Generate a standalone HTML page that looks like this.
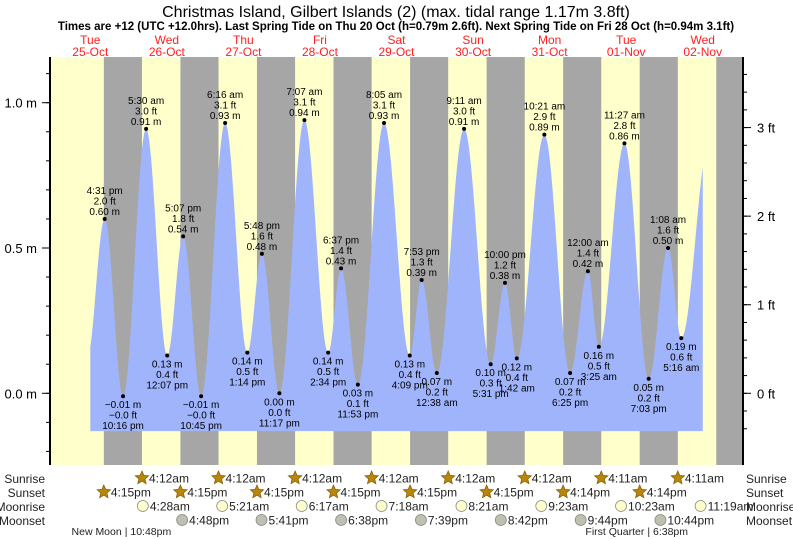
<!DOCTYPE html>
<html><head><meta charset="utf-8"><style>
body{margin:0;background:#fff;}
svg{display:block;font-family:"Liberation Sans",sans-serif;}
</style></head><body>
<svg id="chart" width="793" height="539" viewBox="0 0 793 539" xmlns="http://www.w3.org/2000/svg">
<text x="396" y="17" font-size="16" text-anchor="middle">Christmas Island, Gilbert Islands (2) (max. tidal range 1.17m 3.8ft)</text>
<text x="396" y="30" font-size="11.5" font-weight="bold" text-anchor="middle">Times are +12 (UTC +12.0hrs). Last Spring Tide on Thu 20 Oct (h=0.79m 2.6ft). Next Spring Tide on Fri 28 Oct (h=0.94m 3.1ft)</text>
<g id="bands"></g>
<g id="tide"></g>
<g id="axes"></g>
<g id="labels"></g>
<g id="astro"></g>
</svg>
<script>
// Data
const dayNames = ["Tue","Wed","Thu","Fri","Sat","Sun","Mon","Tue","Wed"];
const dayDates = ["25-Oct","26-Oct","27-Oct","28-Oct","29-Oct","30-Oct","31-Oct","01-Nov","02-Nov"];
const tideHours = [11.0,16.52,22.27,29.5,36.12,41.12,46.75,54.27,61.23,65.8,71.28,79.12,86.57,90.62,95.88,104.08,112.15,115.88,120.63,129.18,137.52,142,145.7,154.35,162.42,168,171.42,179.45,187.05,193.13,197.27,206.0];
const tideHeights = [0.12,0.60,-0.01,0.91,0.13,0.54,-0.01,0.93,0.14,0.48,0.00,0.94,0.14,0.43,0.03,0.93,0.13,0.39,0.07,0.91,0.10,0.38,0.12,0.89,0.07,0.42,0.16,0.86,0.05,0.50,0.19,0.86];
const tideTimes = ["","4:31 pm","10:16 pm","5:30 am","12:07 pm","5:07 pm","10:45 pm","6:16 am","1:14 pm","5:48 pm","11:17 pm","7:07 am","2:34 pm","6:37 pm","11:53 pm","8:05 am","4:09 pm","7:53 pm","12:38 am","9:11 am","5:31 pm","10:00 pm","1:42 am","10:21 am","6:25 pm","12:00 am","3:25 am","11:27 am","7:03 pm","1:08 am","5:16 am",""];
const sunriseHours = [28.2,52.2,76.2,100.2,124.2,148.2,172.18,196.18];
const sunriseLabels = ["4:12am","4:12am","4:12am","4:12am","4:12am","4:12am","4:11am","4:11am"];
const sunsetHours = [16.25,40.25,64.25,88.25,112.25,136.25,160.23,184.23,208.23];
const sunsetLabels = ["4:15pm","4:15pm","4:15pm","4:15pm","4:15pm","4:15pm","4:14pm","4:14pm",""];
const moonriseHours = [28.47,53.35,78.28,103.3,128.35,153.38,178.38,203.32];
const moonriseLabels = ["4:28am","5:21am","6:17am","7:18am","8:21am","9:23am","10:23am","11:19am"];
const moonsetHours = [40.8,65.68,90.63,115.65,140.7,165.73,190.73];
const moonsetLabels = ["4:48pm","5:41pm","6:38pm","7:39pm","8:42pm","9:44pm","10:44pm"];
const phaseHours = [22.8,186.63];
const phaseLabels = ["New Moon | 10:48pm","First Quarter | 6:38pm"];
const mTicks = [0,0.5,1.0];
const ftTicks = [0,1,2,3];

const NS="http://www.w3.org/2000/svg";
const X0=52, PXD=76.56, PL=50, PR=743, PT=57, PB=465, Y0=393.3, PXM=290.6;
const xs=h=>X0+h/24*PXD;
const ys=m=>Y0-m*PXM;
function mk(tag,attrs,parent,txt){const e=document.createElementNS(NS,tag);for(const k in attrs)e.setAttribute(k,attrs[k]);if(txt!==undefined)e.textContent=txt;parent.appendChild(e);return e;}
const bands=document.getElementById('bands'),tide=document.getElementById('tide'),axes=document.getElementById('axes'),labels=document.getElementById('labels'),astro=document.getElementById('astro');

let bg=mk('rect',{x:PL,y:PT,width:PR-PL,height:PB-PT,fill:'#ffffcc'},bands);


for(let i=0;i<sunsetHours.length;i++){
  const x1=xs(sunsetHours[i]);const x2=i<sunriseHours.length?xs(sunriseHours[i]):PR;
  const r=mk('rect',{x:x1,y:PT,width:Math.min(x2,PR)-x1,height:PB-PT,fill:'#a6a6a6'},bands);
  
  
}
for(let i=0;i<dayNames.length;i++){
  const cx=xs(i*24+12);
  const t1=mk('text',{x:cx,y:44,'font-size':12,fill:'#ff2020','text-anchor':'middle'},labels,dayNames[i]);
  
  
  const t2=mk('text',{x:cx,y:56,'font-size':12,fill:'#ff2020','text-anchor':'middle'},labels,dayDates[i]);
  
  
}
const hStart=12,hEnd=204,bottom=-0.13;
function hAt(h){for(let i=0;i<tideHours.length-1;i++){if(h>=tideHours[i]&&h<=tideHours[i+1]){const f=(h-tideHours[i])/(tideHours[i+1]-tideHours[i]);return tideHeights[i]+(tideHeights[i+1]-tideHeights[i])*(1-Math.cos(Math.PI*f))/2;}}return 0;}
let d=`M${xs(hStart)},${ys(bottom)}`;
for(let h=hStart;h<=hEnd+0.001;h+=0.25)d+=` L${xs(h).toFixed(2)},${ys(hAt(h)).toFixed(2)}`;
d+=` L${xs(hEnd)},${ys(bottom)} Z`;
const area=mk('path',{d:d,fill:'#a0b4fc'},tide);


for(let i=1;i<tideHours.length-1;i++){
  const x=xs(tideHours[i]),y=ys(tideHeights[i]);
  const high=tideHeights[i]>tideHeights[i-1];
  const dot=mk('circle',{cx:x,cy:y,r:2,fill:'#000'},labels);
  
  
  const m=tideHeights[i].toFixed(2).replace('-','\u2212')+' m';
  const ftv=tideHeights[i]*3.28084;
  const ft=(ftv<0?'\u2212':'')+Math.abs(ftv).toFixed(1)+' ft';
  const lines=high?[tideTimes[i],ft,m]:[m,ft,tideTimes[i]];
  const base=high?y-25:y+12;
  lines.forEach((s,j)=>{
    const t=mk('text',{x:x,y:base+j*10.5,'font-size':10,'text-anchor':'middle',fill:'#000'},labels,s);
    
    
  });
}
const la=mk('line',{x1:PL,y1:PT,x2:PL,y2:PB,stroke:'#000','stroke-width':2},axes);


const ra=mk('line',{x1:PR,y1:PT,x2:PR,y2:PB,stroke:'#000','stroke-width':2},axes);


for(let k=-2;k<=11;k++){const y=ys(k/10);if(y<PT||y>PB)continue;mk('line',{x1:PL-4,y1:y,x2:PL,y2:y,stroke:'#000'},axes);}
mTicks.forEach(v=>{const y=ys(v);mk('line',{x1:PL-8,y1:y,x2:PL,y2:y,stroke:'#000'},axes);
  const t=mk('text',{x:PL-13,y:y+5,'font-size':13,'text-anchor':'end'},axes,v.toFixed(1)+' m');
  
  });
for(let k=-2;k<=19;k++){const y=ys(k*0.2*0.3048);if(y<PT||y>PB)continue;mk('line',{x1:PR,y1:y,x2:PR+4,y2:y,stroke:'#000'},axes);}
ftTicks.forEach(v=>{const y=ys(v*0.3048);mk('line',{x1:PR,y1:y,x2:PR+8,y2:y,stroke:'#000'},axes);
  const t=mk('text',{x:PR+14,y:y+5,'font-size':13},axes,v+' ft');
  
  });
const rows=[["Sunrise",478],["Sunset",492],["Moonrise",506],["Moonset",520]];
rows.forEach(r=>{
  const a=mk('text',{x:45,y:r[1]+5,'font-size':12,'text-anchor':'end',fill:'#222'},astro,r[0]);
  
  
  const b=mk('text',{x:746,y:r[1]+5,'font-size':12,fill:'#222'},astro,r[0]);
  
  
});
function star(cx,cy){let p=[];for(let i=0;i<10;i++){const a=-Math.PI/2+i*Math.PI/5,r=i%2?3.2:7;p.push((cx+r*Math.cos(a)).toFixed(1)+','+(cy+r*Math.sin(a)).toFixed(1));}return p.join(' ');}
function evRow(hours,labs,y,kind){
  hours.forEach((h,i)=>{if(!labs[i])return;const x=xs(h);
    let ic;
    if(kind==='sun'){ic=mk('polygon',{points:star(x,y),fill:'#b8860b',stroke:'#8a6008','stroke-width':0.8},astro);}
    else ic=mk('circle',{cx:x,cy:y,r:5.5,fill:kind==='mr'?'#ffffcc':'#c0c0b0',stroke:'#888','stroke-width':0.8},astro);
    
    
    const t=mk('text',{x:x+7,y:y+4.5,'font-size':12,fill:'#222'},astro,labs[i]);
    
    
  });
}
evRow(sunriseHours,sunriseLabels,478,'sun');
evRow(sunsetHours,sunsetLabels,492,'sun');
evRow(moonriseHours,moonriseLabels,506,'mr');
evRow(moonsetHours,moonsetLabels,520,'ms');
phaseHours.forEach((h,i)=>{const x=xs(h);const parts=phaseLabels[i].split(' | ');
  const a=mk('text',{x:x-3,y:535,'font-size':10.5,'text-anchor':'end',fill:'#222'},astro,parts[0]);
  
  
  const b=mk('text',{x:x,y:535,'font-size':10.5,fill:'#222'},astro,'| '+parts[1]);
  
  
});
</script>
</body></html>
